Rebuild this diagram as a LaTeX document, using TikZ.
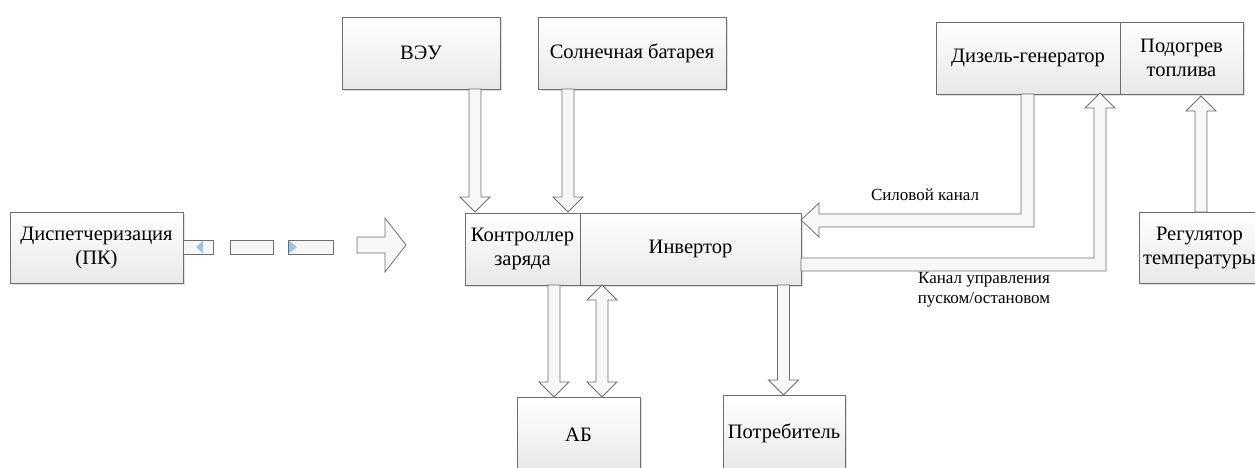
\documentclass[tikz,border=0pt]{standalone}
\usepackage{fontspec}
\setmainfont{Liberation Serif}
\newfontfamily\tnr{Liberation Serif}
\usetikzlibrary{shadows}
\definecolor{edge}{HTML}{6E6E6E}
\definecolor{selblue}{HTML}{9DC3E6}
\tikzset{
  box/.style={draw=edge, line width=0.9pt, top color=white, bottom color=black!9,
    drop shadow={opacity=0.25, shadow xshift=2pt, shadow yshift=-2pt},
    inner sep=0pt, align=center, font=\tnr\fontsize{20.5}{24}\selectfont},
  barrow/.style={draw=edge, line width=0.8pt, fill=black!3, line join=miter},
  lbl/.style={font=\tnr\fontsize{17}{20}\selectfont, align=center, inner sep=0pt},
  dashbox/.style={draw=edge, line width=0.8pt, fill=black!3},
  selmark/.style={fill=selblue, draw=none}
}
% vertical down block arrow: x, ytop, ytip
\newcommand\dnarrow[3]{%
  \draw[barrow] (#1-6,#2) -- (#1+6,#2) -- (#1+6,#3-15) -- (#1+15,#3-15) -- (#1,#3)
    -- (#1-15,#3-15) -- (#1-6,#3-15) -- cycle;}
% vertical up block arrow: x, ybottom, ytip
\newcommand\uparrowblk[3]{%
  \draw[barrow] (#1-6,#2) -- (#1+6,#2) -- (#1+6,#3+15) -- (#1+15,#3+15) -- (#1,#3)
    -- (#1-15,#3+15) -- (#1-6,#3+15) -- cycle;}
\begin{document}
\begin{tikzpicture}[x=1pt,y=-1pt]
\useasboundingbox (0,0) rectangle (1255,467);
\clip (0,0) rectangle (1255,467);

% boxes
\node[box, minimum width=158, minimum height=72] (veu) at (421,53) {ВЭУ};
\node[box, minimum width=188, minimum height=72] (sun) at (632,53) {Солнечная батарея};
\node[box, minimum width=173, minimum height=71] (disp) at (96.5,247.5) {Диспетчеризация\\(ПК)};
\node[box, minimum width=115, minimum height=72] (ctrl) at (522.5,249) {Контроллер\\заряда};
\node[box, minimum width=221, minimum height=72] (inv) at (690.5,249) {Инвертор};
\node[box, minimum width=184, minimum height=72] (dg) at (1028,58) {Дизель-генератор};
\node[box, minimum width=123, minimum height=72] (pod) at (1181.5,58) {Подогрев\\топлива};
\node[box, minimum width=121, minimum height=71] (reg) at (1199.5,247.5) {Регулятор\\температуры};
\node[box, minimum width=123, minimum height=75] (ab) at (578.5,434.5) {АБ};
\node[box, minimum width=122, minimum height=77] (potr) at (784,433.5) {Потребитель};

% inputs to controller
\dnarrow{475}{89}{212}
\dnarrow{568}{89}{212}

% controller -> AB
\dnarrow{554}{285}{397}
% AB <-> inverter
\draw[barrow] (596,300) -- (596,382) -- (587,382) -- (602,397) -- (617,382) -- (608,382)
  -- (608,300) -- (617,300) -- (602,285) -- (587,300) -- cycle;
% inverter -> consumer
\dnarrow{783.5}{285}{395}

% power channel (diesel -> inverter)
\draw[barrow] (1021,94) -- (1034,94) -- (1034,227) -- (819,227) -- (819,237) -- (801,220)
  -- (819,203) -- (819,214) -- (1021,214) -- cycle;
\node[lbl] (lpow) at (925,195) {Силовой канал};

% control channel (inverter -> diesel)
\draw[barrow] (801,258) -- (1094,258) -- (1094,108) -- (1085,108) -- (1100,93) -- (1115,108)
  -- (1106,108) -- (1106,271) -- (801,271) -- cycle;
\node[lbl] (lctl) at (984,290) {Канал управления\\пуском/остановом};

% regulator -> heater
\uparrowblk{1201}{212}{96}

% dispatch dashed arrow
\draw[dashbox] (183,240) rectangle (213,254);
\fill[selmark] (203,240.5) -- (203,253.5) -- (196,247) -- cycle;
\draw[dashbox] (230,240) rectangle (273,254);
\draw[dashbox] (288,240) rectangle (333,254);
\fill[selmark] (289,240.5) -- (289,253.5) -- (297,247) -- cycle;
\draw[barrow] (357,237) -- (385,237) -- (385,218) -- (406,245) -- (385,272) -- (385,253)
  -- (357,253) -- cycle;
\end{tikzpicture}
\end{document}
